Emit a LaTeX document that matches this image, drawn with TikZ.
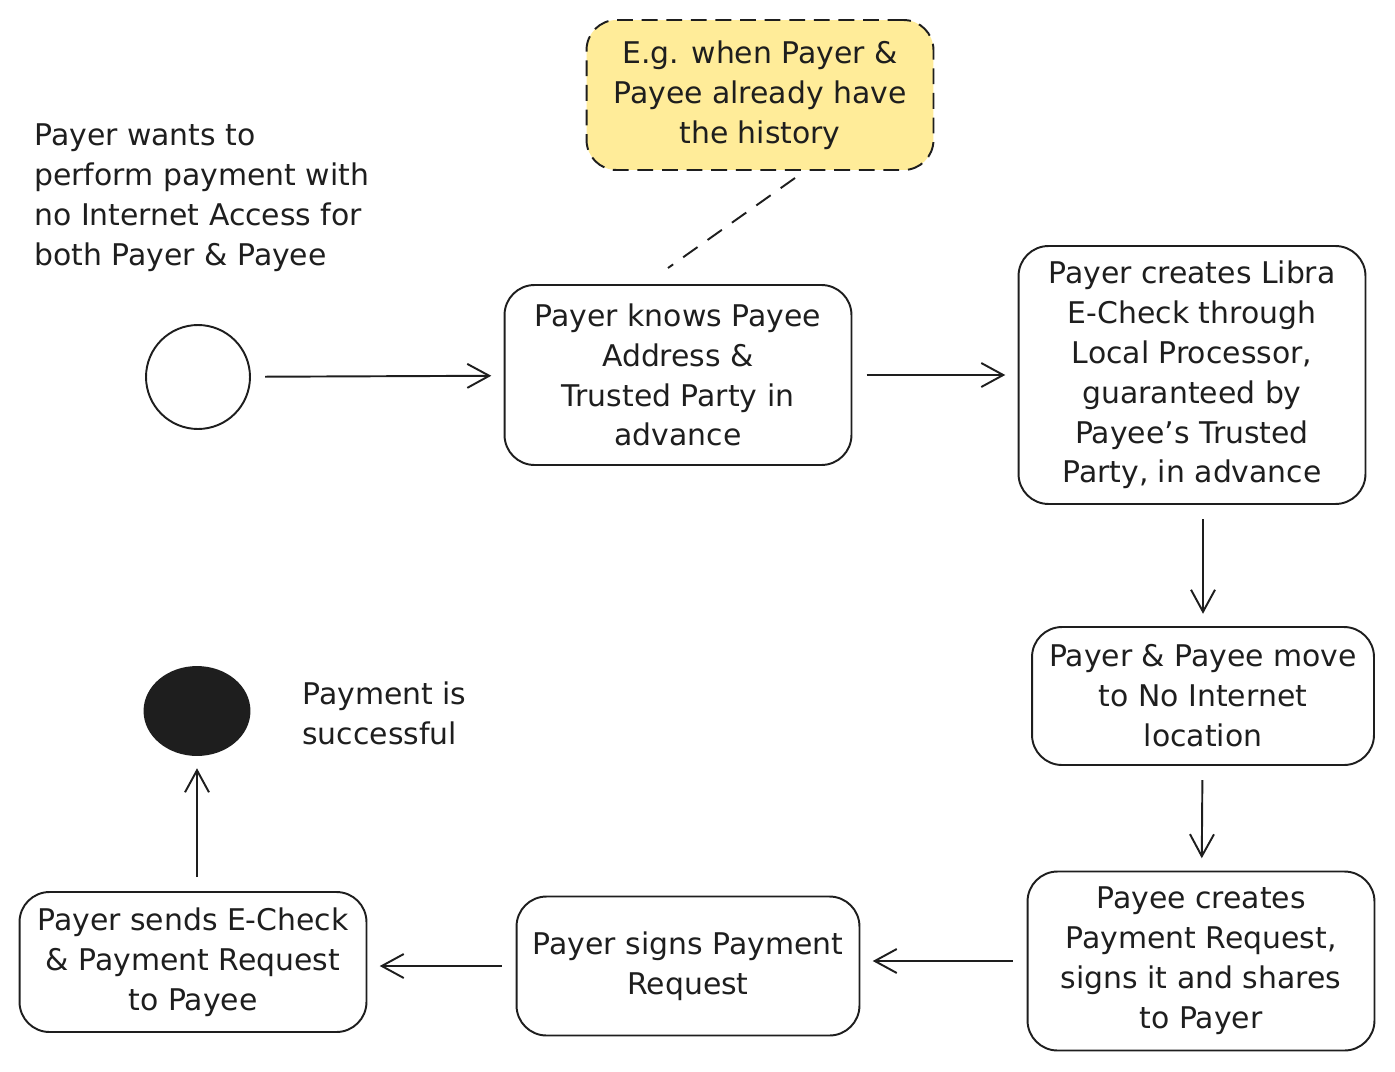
\documentclass[tikz,border=0pt]{standalone}
\usepackage{fontspec}
\setmainfont{DejaVu Sans}
\usetikzlibrary{arrows.meta,shapes.geometric}
\definecolor{inkColor}{HTML}{1E1E1E}
\definecolor{noteYellow}{HTML}{FFEC99}

\begin{document}
\begin{tikzpicture}[x=0.02cm, y=-0.02cm,
    every node/.style={text=inkColor, font=\fontsize{17}{22.7}\selectfont},
    stateBox/.style={draw=inkColor, line width=1.1pt, rounded corners=0.6cm,
        minimum width=6.94cm, align=center, inner sep=0pt},
    noteBox/.style={stateBox, fill=noteYellow, dash pattern=on 9pt off 5pt},
    flow/.style={draw=inkColor, line width=1.1pt,
        -{Straight Barb[length=0.44cm, width=0.48cm, line width=1.1pt]},
        shorten <=8pt, shorten >=7pt},
    link/.style={draw=inkColor, line width=1.1pt, dash pattern=on 10pt off 7pt}]

    \useasboundingbox (0,0) rectangle (1395,1071);

    % Start, note and intro text
    \node[circle, draw=inkColor, line width=1.1pt, minimum size=2.08cm] (start) at (198,377) {};
    \node[anchor=west, align=left, inner sep=0pt] (intro) at (34,198)
        {Payer wants to\\perform payment with\\no Internet Access for\\both Payer \& Payee};
    \node[noteBox, minimum height=3.0cm] (note) at (760,95)
        {E.g. when Payer \&\\Payee already have\\the history};

    % Top row and right column
    \node[stateBox, minimum height=3.6cm] (knows) at (678,375)
        {Payer knows Payee\\Address \&\\Trusted Party in\\advance};
    \node[stateBox, minimum height=5.16cm] (creates) at (1192,375)
        {Payer creates Libra\\E-Check through\\Local Processor,\\guaranteed by\\Payee's Trusted\\Party, in advance};
    \node[stateBox, minimum width=6.84cm, minimum height=2.76cm] (move) at (1203,696)
        {Payer \& Payee move\\to No Internet\\location};
    \node[stateBox, minimum height=3.58cm] (request) at (1201,961)
        {Payee creates\\Payment Request,\\signs it and shares\\to Payer};

    % Bottom row and end
    \node[stateBox, minimum width=6.86cm, minimum height=2.78cm] (signs) at (688,966)
        {Payer signs Payment\\Request};
    \node[stateBox, minimum height=2.8cm] (sends) at (193,962)
        {Payer sends E-Check\\\& Payment Request\\to Payee};
    \node[ellipse, draw=inkColor, fill=inkColor, line width=1.1pt,
        minimum width=2.1cm, minimum height=1.76cm] (finish) at (197,711) {};
    \node[anchor=west, align=left, inner sep=0pt] (success) at (302,713)
        {Payment is\\successful};

    % Note link
    \coordinate (linkTop) at (795,178);
    \coordinate (linkEnd) at (668,268);
    \draw[link] (linkTop) -- (linkEnd);

    % Flow
    \draw[flow] (start) -- (knows);
    \draw[flow] (knows) -- (creates);
    \draw[flow] (move.north |- creates.south) -- (move.north);
    \draw[flow] (move) -- (request);
    \draw[flow] (request.west) -- (request.west -| signs.east);
    \draw[flow] (signs.west) -- (signs.west -| sends.east);
    \draw[flow] (finish |- sends.north) -- (finish);

\end{tikzpicture}
\end{document}
